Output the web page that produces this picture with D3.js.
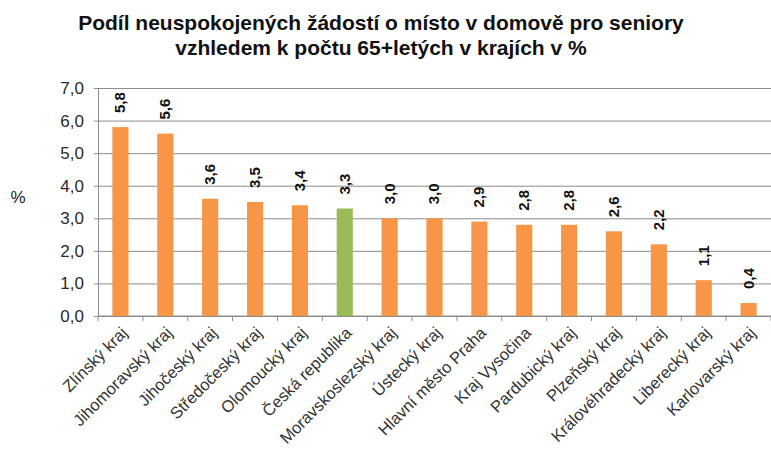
<html>
<head>
  <meta charset="utf-8">
  <script src="https://d3js.org/d3.v7.min.js"></script>
  <style>
    body { margin: 0; background: #fff; }
    .gridlines line { stroke: #8c8c8c; }
    .gridlines .domain { stroke: none; }
    text { font-family: "Liberation Sans", Arial, sans-serif; }
  </style>
</head>
<body>
  <svg id="bargraph" width="771" height="451"></svg>
  <script>
    const regions = ['Zlínský kraj', 'Jihomoravský kraj', 'Jihočeský kraj', 'Středočeský kraj',
      'Olomoucký kraj', 'Česká republika', 'Moravskoslezský kraj', 'Ústecký kraj',
      'Hlavní město Praha', 'Kraj Vysočina', 'Pardubický kraj', 'Plzeňský kraj',
      'Královéhradecký kraj', 'Liberecký kraj', 'Karlovarský kraj'];
    const shares = [5.8, 5.6, 3.6, 3.5, 3.4, 3.3, 3.0, 3.0, 2.9, 2.8, 2.8, 2.6, 2.2, 1.1, 0.4];
    const yTicks = [0, 1, 2, 3, 4, 5, 6, 7];
    const titleLines = ['Podíl neuspokojených žádostí o místo v domově pro seniory',
      'vzhledem k počtu 65+letých v krajích v %'];

    const svg = d3.select('svg#bargraph');
    const margins = { top: 88, right: 0, bottom: 135, left: 98 };
    const chartWidth = 771 - margins.left - margins.right;
    const chartHeight = 316 - margins.top;
    const comma = d => d.toFixed(1).replace('.', ',');

    const chartArea = svg.append('g')
      .attr('transform', `translate(${margins.left},${margins.top})`);

    const xScale = d3.scaleBand()
      .domain(regions)
      .range([0, chartWidth])
      .paddingInner(0.64)
      .paddingOuter(0.32);

    const yScale = d3.scaleLinear()
      .domain([0, 7])
      .range([chartHeight, 0]);

    // horizontal gridlines
    chartArea.append('g')
      .attr('class', 'gridlines')
      .call(d3.axisLeft(yScale).tickValues(yTicks).tickSize(-chartWidth).tickFormat(''));

    // left axis
    const leftAxis = chartArea.append('g')
      .call(d3.axisLeft(yScale).tickValues(yTicks).tickSize(4).tickPadding(10).tickFormat(comma));
    leftAxis.selectAll('line, .domain').attr('stroke', '#8c8c8c');
    leftAxis.selectAll('text').style('font-size', '17px').style('fill', '#2a2a2a');

    // bottom axis, ticks on category boundaries
    const step = xScale.step();
    const bottom = chartArea.append('g')
      .attr('transform', `translate(0,${chartHeight})`);
    bottom.append('line')
      .attr('x1', 0).attr('x2', chartWidth)
      .attr('stroke', '#8c8c8c');
    bottom.selectAll('.tick').data(d3.range(regions.length + 1))
      .join('line')
      .attr('class', 'tick')
      .attr('x1', i => i * step)
      .attr('x2', i => i * step)
      .attr('y1', 0).attr('y2', 5)
      .attr('stroke', '#8c8c8c');

    bottom.selectAll('.cat').data(regions)
      .join('text')
      .attr('class', 'cat')
      .attr('transform', d => `translate(${xScale(d) + xScale.bandwidth() / 2 + 8},${18}) rotate(-45)`)
      .attr('text-anchor', 'end')
      .style('font-size', '16.5px')
      .style('fill', '#333')
      .text(d => d);

    // bars
    chartArea.selectAll('rect').data(shares)
      .join('rect')
      .attr('x', (d, i) => xScale(regions[i]))
      .attr('y', d => yScale(d))
      .attr('width', xScale.bandwidth())
      .attr('height', d => chartHeight - yScale(d))
      .attr('fill', (d, i) => regions[i] === 'Česká republika' ? '#9bbb59' : '#f79646');

    // value labels
    chartArea.selectAll('.val').data(shares)
      .join('text')
      .attr('class', 'val')
      .attr('transform', (d, i) => `translate(${xScale(regions[i]) + xScale.bandwidth() / 2 + 1},${yScale(d) - 14}) rotate(-90)`)
      .attr('dominant-baseline', 'middle')
      .style('font-size', '15px')
      .style('font-weight', 'bold')
      .style('fill', '#111')
      .text(d => comma(d));

    // y label
    svg.append('text')
      .attr('x', 18).attr('y', 203)
      .attr('text-anchor', 'middle')
      .style('font-size', '17px')
      .style('fill', '#222')
      .text('%');

    // title
    svg.selectAll('.title').data(titleLines)
      .join('text')
      .attr('class', 'title')
      .attr('x', 381)
      .attr('y', (d, i) => 30 + i * 25)
      .attr('text-anchor', 'middle')
      .style('font-size', '21px')
      .style('font-weight', 'bold')
      .style('fill', '#111')
      .text(d => d);
  </script>
</body>
</html>
